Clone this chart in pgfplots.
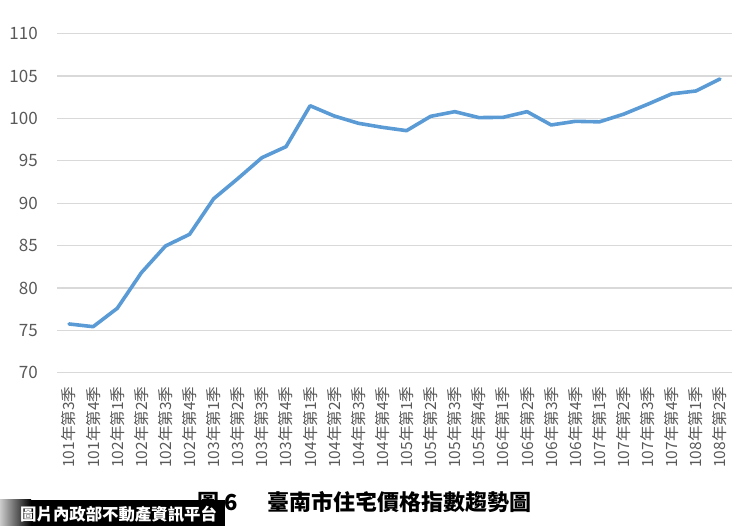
\documentclass[border=0pt]{standalone}
\usepackage{pgfplots}
\pgfplotsset{compat=1.18}
\usepackage{fontspec}
\setmainfont{Noto Sans CJK TC}
\definecolor{linec}{HTML}{5B9BD5}
\definecolor{gridc}{HTML}{D9D9D9}
\definecolor{tickc}{HTML}{595959}

\begin{document}
\begin{tikzpicture}[x=1pt,y=1pt]
    \path[use as bounding box] (0,0) rectangle (750,526);
    \begin{axis}[
        at={(57pt,153.3pt)}, anchor=south west,
        scale only axis,
        width=675pt, height=339pt,
        xmin=-0.5, xmax=27.5,
        ymin=70, ymax=110,
        ytick={70,75,...,110},
        xtick={0,...,27},
        xticklabels={101年第3季,101年第4季,102年第1季,102年第2季,102年第3季,102年第4季,
            103年第1季,103年第2季,103年第3季,103年第4季,104年第1季,104年第2季,104年第3季,104年第4季,
            105年第1季,105年第2季,105年第3季,105年第4季,106年第1季,106年第2季,106年第3季,106年第4季,
            107年第1季,107年第2季,107年第3季,107年第4季,108年第1季,108年第2季},
        axis lines=left,
        axis line style={draw=none},
        major tick length=0pt,
        ymajorgrids,
        grid style={gridc, line width=1.2pt},
        yticklabel style={inner sep=0pt, text=tickc, font=\fontsize{17}{17}\selectfont},
        yticklabel shift=19pt,
        xticklabel style={rotate=90, anchor=east, inner sep=0pt, text=tickc, font=\fontsize{15.5}{15.5}\selectfont},
        xticklabel shift=14pt,
        /pgf/number format/assume math mode=true,
        clip=false,
        ]
        \addplot[linec, line width=3.6pt, line join=round, line cap=round] coordinates {
            (0,75.75) (1,75.43) (2,77.6) (3,81.8) (4,84.95) (5,86.33) (6,90.53) (7,92.9)
            (8,95.37) (9,96.67) (10,101.5) (11,100.29) (12,99.43) (13,98.95) (14,98.56)
            (15,100.25) (16,100.8) (17,100.1) (18,100.13) (19,100.8) (20,99.23) (21,99.66)
            (22,99.6) (23,100.5) (24,101.67) (25,102.9) (26,103.24) (27,104.66)};
    \end{axis}
    % caption
    \node[anchor=west, inner sep=0pt, font=\fontsize{22}{22}\selectfont\bfseries] at (197,24) {圖 6};
    \node[anchor=west, inner sep=0pt, font=\fontsize{22}{22}\selectfont\bfseries] at (267,24) {臺南市住宅價格指數趨勢圖};
    % watermark box
    \fill[black] (30,0) rectangle (225,26);
    \shade[left color=gray!40, right color=black] (0,0) rectangle (31,26);
    \node[anchor=west, inner sep=0pt, text=white, font=\fontsize{16.4}{16.4}\selectfont\bfseries] at (20,12) {圖片內政部不動產資訊平台};
\end{tikzpicture}
\end{document}
